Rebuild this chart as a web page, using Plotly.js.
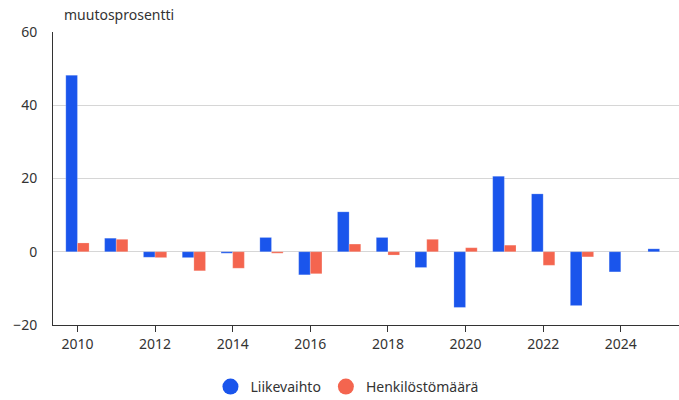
<!DOCTYPE html>
<html><head><meta charset="utf-8">
<script src="https://cdn.plot.ly/plotly-3.0.1.min.js"></script>
<style>html,body{margin:0;padding:0;background:#fff;overflow:hidden}#chart{width:679px;height:400px}</style>
</head><body><div id="chart"></div>
<script>
const years = [2010,2011,2012,2013,2014,2015,2016,2017,2018,2019,2020,2021,2022,2023,2024,2025];
const liikevaihto = [48.2,3.7,-1.5,-1.6,-0.4,3.9,-6.3,10.9,3.9,-4.3,-15.2,20.6,15.8,-14.7,-5.5,0.8];
const henkilosto = [2.4,3.4,-1.6,-5.2,-4.5,-0.4,-6.0,2.1,-0.9,3.4,1.1,1.8,-3.7,-1.4,null,null];
const names = ['Liikevaihto','Henkilöstömäärä'];
const colors = ['#1a55ec','#f4654f'];
const yTicks = [-20,0,20,40,60];
const xTicks = [2010,2012,2014,2016,2018,2020,2022,2024];
const font = '"Noto Sans", "Open Sans", sans-serif';

const traces = [
  {type:'bar', x:years, y:liikevaihto, name:names[0], marker:{color:colors[0], line:{color:'rgba(255,255,255,0.35)', width:0.6}}, showlegend:false},
  {type:'bar', x:years, y:henkilosto, name:names[1], marker:{color:colors[1], line:{color:'rgba(255,255,255,0.35)', width:0.6}}, showlegend:false},
  {type:'scatter', mode:'markers', x:[null], y:[null], name:names[0], marker:{color:colors[0], size:16, symbol:'circle'}},
  {type:'scatter', mode:'markers', x:[null], y:[null], name:names[1], marker:{color:colors[1], size:16, symbol:'circle'}}
];
const layout = {
  width:679, height:400,
  margin:{l:53, r:0, t:32, b:75},
  paper_bgcolor:'#fff', plot_bgcolor:'#fff',
  font:{family:font, size:14, color:'#333'},
  barmode:'group', bargap:0.4, bargroupgap:0,
  xaxis:{range:[2009.37,2025.5], tickvals:xTicks, ticks:'outside', ticklen:6, tickcolor:'#333',
         showline:true, linecolor:'#333', linewidth:1, showgrid:false, zeroline:false, mirror:false,
         tickfont:{size:14, color:'#333'}},
  yaxis:{range:[-20,60], tickvals:yTicks, showline:true, linecolor:'#333', linewidth:1, mirror:false,
         gridcolor:'#d6d6d6', gridwidth:1, zeroline:true, zerolinecolor:'#d6d6d6', zerolinewidth:1,
         ticks:'', ticklabelstandoff:12, tickfont:{size:14, color:'#333'}},
  legend:{orientation:'h', xref:'container', yref:'container', x:0.511, xanchor:'center', y:0.0325, yanchor:'middle', font:{size:14, color:'#333'}, itemwidth:30},
  annotations:[{text:'muutosprosentti', xref:'paper', yref:'paper', x:0.015, y:1, yshift:6, xanchor:'left', yanchor:'bottom', showarrow:false, font:{size:14, color:'#333'}}]
};
Plotly.newPlot('chart', traces, layout, {displayModeBar:false, staticPlot:true});
</script></body></html>
